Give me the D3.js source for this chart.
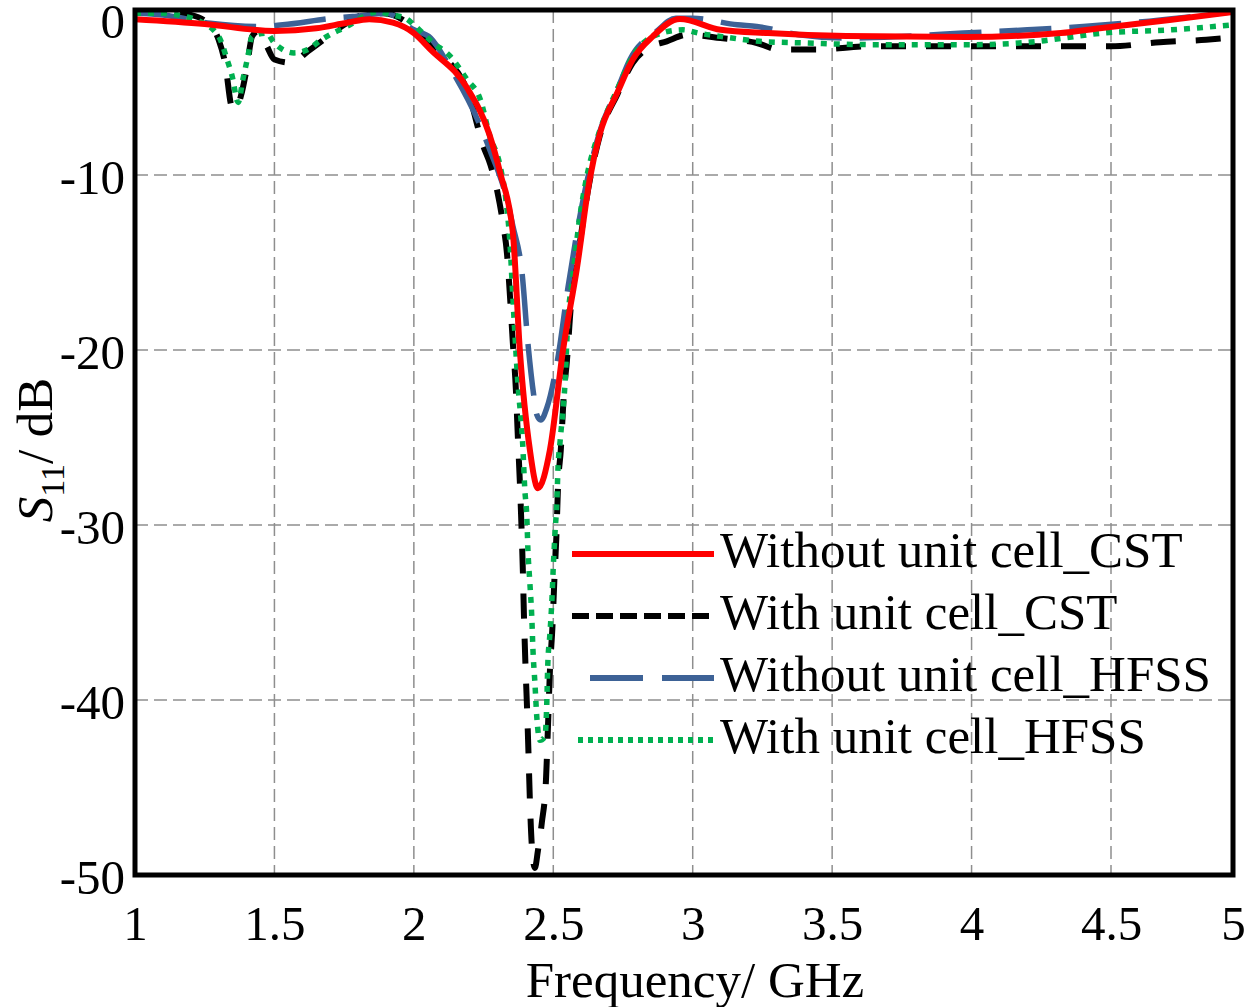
<!DOCTYPE html>
<html>
<head>
<meta charset="utf-8">
<script src="https://cdn.jsdelivr.net/npm/d3@7"></script>
<style>
  body { margin: 0; background: #fff; }
  svg { display: block; }
  text { font-family: "Liberation Serif", "Times New Roman", serif; fill: #000; }
</style>
</head>
<body>
<svg id="chart" width="1255" height="1007"></svg>
<script>
// Axis ticks
const xTicks = [1, 1.5, 2, 2.5, 3, 3.5, 4, 4.5, 5];
const yTicks = [0, -10, -20, -30, -40, -50];

// Series labels (legend order)
const seriesNames = [
  "Without unit cell_CST",
  "With unit cell_CST",
  "Without unit cell_HFSS",
  "With unit cell_HFSS"
];

// Without unit cell, CST (GHz, dB)
const withoutCstFreq = [1.00,1.25,1.50,1.65,1.76,1.84,1.925,2.00,2.06,2.19,2.27,2.31,2.355,2.38,2.416,2.445,2.488,2.535,2.585,2.63,2.667,2.73,2.785,2.857,2.954,3.10,3.27,3.55,3.98,4.32,4.46,4.74,5.00];
const withoutCstS11 = [-0.56,-0.85,-1.27,-1.11,-0.77,-0.56,-0.77,-1.4,-2.4,-4.7,-7.5,-9.9,-13.3,-20.0,-25.7,-27.9,-25.7,-20.0,-15.3,-10.3,-7.5,-5.0,-3.0,-1.6,-0.55,-1.2,-1.4,-1.58,-1.64,-1.4,-1.1,-0.6,-0.12];

// With unit cell, CST
const withCstFreq = [1.00,1.10,1.20,1.26,1.30,1.323,1.348,1.362,1.38,1.40,
  1.42,1.44,1.47,1.50,1.56,1.62,1.70,1.74,1.82,1.89,
  2.00,2.06,2.19,2.25,2.275,2.30,2.32,2.334,2.345,2.355,
  2.366,2.373,2.380,2.386,2.391,2.395,2.400,2.406,2.411,2.416,
  2.423,2.434,2.445,2.459,2.474,2.481,2.488,2.497,2.504,2.511,
  2.517,2.527,2.538,2.549,2.563,2.585,2.631,2.667,2.73,2.785,
  2.84,2.907,2.98,3.10,3.23,3.31,3.44,3.635,3.96,4.28,
  4.50,4.70,4.89,5.00];
const withCstS11 = [-0.2,-0.1,-0.3,-0.8,-1.8,-3.2,-5.9,-6.0,-5.2,-3.6,
  -1.6,-1.3,-2.1,-3.0,-3.2,-2.5,-1.5,-1.0,-0.3,-0.2,
  -1.1,-2.2,-4.8,-8.3,-9.4,-11.0,-12.8,-14.5,-17.0,-19.6,
  -22.3,-25.0,-27.5,-30.1,-32.7,-35.3,-37.9,-40.5,-43.0,-45.7,
  -48.3,-49.6,-48.6,-47.0,-44.5,-41.5,-38.3,-35.8,-33.1,-30.7,
  -27.8,-25.7,-22.5,-20.6,-17.5,-15.0,-10.3,-7.6,-5.1,-3.2,
  -2.3,-1.9,-1.5,-1.7,-2.0,-2.4,-2.4,-2.2,-2.2,-2.2,
  -2.2,-1.95,-1.8,-1.65];

// Without unit cell, HFSS
const withoutHfssFreq = [1.00,1.10,1.27,1.45,1.53,1.71,1.78,1.90,2.00,2.06,
  2.13,2.24,2.273,2.337,2.355,2.388,2.409,2.43,2.441,2.455,
  2.477,2.517,2.553,2.595,2.63,2.67,2.73,2.775,2.87,2.94,
  3.00,3.16,3.23,3.38,3.55,3.75,3.97,4.20,4.40,4.60,
  4.80,5.00];
const withoutHfssS11 = [-0.2,-0.3,-0.8,-1.0,-0.9,-0.5,-0.4,-0.2,-1.2,-1.7,
  -3.5,-7.1,-8.5,-11.6,-12.9,-15.6,-19.6,-22.6,-23.7,-24.0,
  -23.3,-20.4,-16.4,-12.4,-9.7,-7.2,-4.8,-3.0,-1.3,-0.5,
  -0.5,-0.9,-1.0,-1.5,-1.7,-1.6,-1.4,-1.2,-1.0,-0.75,
  -0.45,-0.1];

// With unit cell, HFSS
const withHfssFreq = [1.00,1.10,1.18,1.22,1.30,1.33,1.351,1.366,1.37,1.387,
  1.405,1.42,1.473,1.495,1.53,1.57,1.62,1.66,1.71,1.76,
  1.82,1.87,1.92,1.97,2.00,2.07,2.13,2.19,2.24,2.27,
  2.31,2.33,2.345,2.355,2.373,2.39,2.398,2.405,2.409,2.416,
  2.423,2.427,2.434,2.441,2.452,2.47,2.477,2.48,2.488,2.495,
  2.50,2.506,2.513,2.517,2.524,2.542,2.553,2.567,2.595,2.62,
  2.667,2.73,2.785,2.857,2.965,3.02,3.10,3.24,3.41,3.65,
  4.0,4.24,4.33,4.47,4.75,5.0];
const withHfssS11 = [-0.2,-0.2,-0.4,-0.6,-1.6,-3.0,-4.2,-5.5,-5.6,-4.2,
  -2.8,-1.6,-1.4,-1.9,-2.4,-2.6,-2.4,-1.9,-1.4,-1.0,
  -0.4,-0.1,-0.3,-0.5,-0.9,-2.0,-2.8,-4.2,-5.5,-7.5,
  -9.5,-11.4,-14.0,-17.0,-21.9,-25.3,-28.0,-29.5,-31.4,-33.3,
  -35.3,-37.1,-39.0,-41.0,-42.3,-42.1,-40.0,-38.1,-36.2,-34.3,
  -32.4,-30.5,-28.6,-26.7,-25.3,-21.9,-18.1,-16.2,-12.4,-10.1,
  -7.3,-4.8,-2.8,-1.6,-1.2,-1.4,-1.6,-1.9,-2.0,-2.1,
  -2.1,-1.9,-1.7,-1.4,-1.2,-0.9];

const svg = d3.select("#chart");
const plot = { left: 135, right: 1233, top: 10, bottom: 875 };

// Frequency axis: the final half-GHz interval is slightly narrower
const x = d3.scaleLinear().domain([1, 4.5, 5]).range([plot.left, 1111, plot.right]);
// S11 axis: the top decade is slightly compressed
const y = d3.scaleLinear().domain([-50, -10, 0]).range([plot.bottom, 175, plot.top]);

// Dashed grid
const grid = svg.append("g").attr("stroke", "#8e8e8e").attr("stroke-width", 1.5)
  .attr("stroke-dasharray", "13,6");
grid.selectAll("line.v").data(xTicks.slice(1, -1)).join("line").attr("class", "v")
  .attr("x1", d => x(d)).attr("x2", d => x(d))
  .attr("y1", plot.top).attr("y2", plot.bottom);
grid.selectAll("line.h").data(yTicks.slice(1, -1)).join("line").attr("class", "h")
  .attr("x1", plot.left).attr("x2", plot.right)
  .attr("y1", d => y(d)).attr("y2", d => y(d));

// Curves
const series = [
  { name: seriesNames[1], f: withCstFreq, v: withCstS11, color: "#000000", width: 6, dash: "25,20", legendDash: "17,7", lx0: 572 },
  { name: seriesNames[2], f: withoutHfssFreq, v: withoutHfssS11, color: "#3d6296", width: 5.5, dash: "52,18", legendDash: "53,19", lx0: 590 },
  { name: seriesNames[3], f: withHfssFreq, v: withHfssS11, color: "#00b050", width: 5.5, dash: "6,7", legendDash: "5,5", lx0: 578 },
  { name: seriesNames[0], f: withoutCstFreq, v: withoutCstS11, color: "#ff0000", width: 6, dash: null, legendDash: null, lx0: 572 }
];

svg.append("defs").append("clipPath").attr("id", "plotClip")
  .append("rect").attr("x", plot.left).attr("y", plot.top - 3)
  .attr("width", plot.right - plot.left).attr("height", plot.bottom - plot.top + 3);

const line = d3.line().x(d => x(d[0])).y(d => y(d[1])).curve(d3.curveMonotoneX);

const curves = svg.append("g").attr("clip-path", "url(#plotClip)");
series.forEach(s => {
  curves.append("path")
    .datum(d3.zip(s.f, s.v))
    .attr("fill", "none")
    .attr("stroke", s.color)
    .attr("stroke-width", s.width)
    .attr("stroke-dasharray", s.dash)
    .attr("stroke-linejoin", "round")
    .attr("d", line);
});

// Frame
svg.append("rect")
  .attr("x", plot.left).attr("y", plot.top)
  .attr("width", plot.right - plot.left).attr("height", plot.bottom - plot.top)
  .attr("fill", "none").attr("stroke", "#000").attr("stroke-width", 5);

// Tick labels
const tickFont = "49px";
const xAxis = svg.append("g").attr("transform", `translate(0,${plot.bottom})`)
  .call(d3.axisBottom(x).tickValues(xTicks).tickSize(0).tickFormat(d3.format("")));
xAxis.select(".domain").remove();
xAxis.selectAll("text")
  .attr("y", 65).attr("dy", null)
  .style("font-family", '"Liberation Serif", "Times New Roman", serif')
  .style("font-size", tickFont).attr("fill", "#000");

const yAxis = svg.append("g").attr("transform", `translate(${plot.left},0)`)
  .call(d3.axisLeft(y).tickValues(yTicks).tickSize(0).tickFormat(d => d3.format("")(d).replace("−", "-")));
yAxis.select(".domain").remove();
yAxis.selectAll("text")
  .attr("x", -10)
  .attr("dy", d => d === 0 ? "0.56em" : "0.37em")
  .style("font-family", '"Liberation Serif", "Times New Roman", serif')
  .style("font-size", tickFont).attr("fill", "#000");

// Axis titles
svg.append("text")
  .attr("x", 695).attr("y", 997)
  .attr("text-anchor", "middle")
  .style("font-size", "51px")
  .text("Frequency/ GHz");

const yTitle = svg.append("text")
  .attr("transform", "translate(52,450) rotate(-90)")
  .attr("text-anchor", "middle")
  .style("font-size", "51px");
yTitle.append("tspan").style("font-style", "italic").text("S");
yTitle.append("tspan").attr("dy", 12).style("font-size", "34px").text("11");
yTitle.append("tspan").attr("dy", -12).text("/ dB");

// Legend
const legendOrder = [3, 0, 1, 2];
const legend = svg.append("g");
legendOrder.forEach((si, i) => {
  const s = series[si];
  const base = 567 + i * 62;
  legend.append("line")
    .attr("x1", s.lx0).attr("x2", 714)
    .attr("y1", base - 13).attr("y2", base - 13)
    .attr("stroke", s.color).attr("stroke-width", 6)
    .attr("stroke-dasharray", s.legendDash);
  legend.append("text")
    .attr("x", 720).attr("y", base)
    .style("font-size", "51px")
    .text(s.name);
});
</script>
</body>
</html>
